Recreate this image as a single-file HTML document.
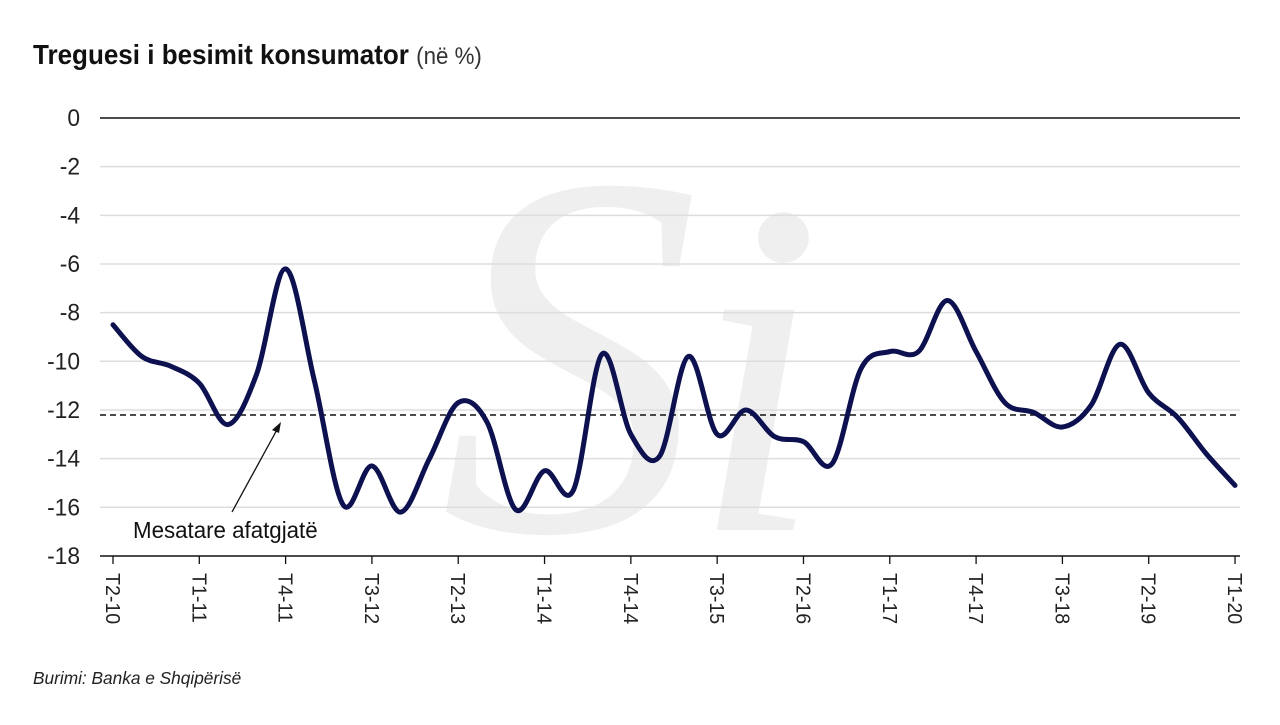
<!DOCTYPE html>
<html><head><meta charset="utf-8"><style>
body{margin:0;background:#fff;width:1280px;height:720px;overflow:hidden;font-family:"Liberation Sans",sans-serif}
</style></head><body>
<svg id="s" width="1280" height="720" xmlns="http://www.w3.org/2000/svg" font-family="Liberation Sans, sans-serif">
<text x="440" y="530" font-family="Liberation Serif, serif" font-style="italic" font-size="520" fill="#efefef">S</text>
<text x="690" y="530" font-family="Liberation Serif, serif" font-style="italic" font-size="480" fill="#efefef">i</text>
<text transform="translate(33,64) scale(0.93,1)" font-size="28" font-weight="bold" fill="#111">Treguesi i besimit konsumator <tspan font-weight="normal" font-size="24" fill="#333">(në %)</tspan></text>
<g id="grid"></g>
<line x1="100" y1="415" x2="1240" y2="415" stroke="#111" stroke-width="1.5" stroke-dasharray="6,4"/>
<path id="line" fill="none" stroke="#0d1150" stroke-width="5" stroke-linejoin="round" stroke-linecap="round"/>
<line x1="232" y1="512" x2="279" y2="426" stroke="#111" stroke-width="1.3"/>
<path d="M281,422 L272,430 L279,433 Z" fill="#111"/>
<text transform="translate(133,538) scale(0.97,1)" font-size="23" fill="#111">Mesatare afatgjatë</text>
<text transform="translate(33,684) scale(0.96,1)" font-size="18" font-style="italic" fill="#222">Burimi: Banka e Shqipërisë</text>
</svg>
<script>
var s=document.getElementById('s'),g=document.getElementById('grid'),NS='http://www.w3.org/2000/svg';
function el(t,a,txt){var e=document.createElementNS(NS,t);for(var k in a)e.setAttribute(k,a[k]);if(txt)e.textContent=txt;return e;}
function Y(v){return 118-v*24.33;}
for(var v=0;v>=-18;v-=2){var y=Y(v);
 g.appendChild(el('line',{x1:100,x2:1240,y1:y,y2:y,stroke:v==0||v==-18?'#111':'#ddd','stroke-width':1.5}));
 g.appendChild(el('text',{transform:'translate(80,'+(y+8)+') scale(0.95,1)','text-anchor':'end','font-size':24,fill:'#222'},String(v)));}
function X(i){return 113+i*28.77;}
var labs=['T2-10','T1-11','T4-11','T3-12','T2-13','T1-14','T4-14','T3-15','T2-16','T1-17','T4-17','T3-18','T2-19','T1-20'];
for(var j=0;j<14;j++){var x=X(j*3);
 g.appendChild(el('line',{x1:x,x2:x,y1:556,y2:564,stroke:'#111','stroke-width':1.3}));
 g.appendChild(el('text',{transform:'translate('+(x-7)+',573) rotate(90) scale(0.98,1)','font-size':20,fill:'#222'},labs[j]));}
var d=[-8.5,-9.8,-10.2,-10.9,-12.6,-10.5,-6.2,-10.8,-15.9,-14.3,-16.2,-14.0,-11.7,-12.5,-16.1,-14.5,-15.3,-9.7,-13.0,-13.9,-9.8,-13.0,-12.0,-13.1,-13.3,-14.2,-10.3,-9.6,-9.6,-7.5,-9.6,-11.7,-12.1,-12.7,-11.8,-9.3,-11.3,-12.3,-13.8,-15.1];
var p=d.map(function(v,i){return [X(i),Y(v)];});
var str='M'+p[0][0]+','+p[0][1];
for(var i=0;i<p.length-1;i++){var p0=p[i-1]||p[i],p1=p[i],p2=p[i+1],p3=p[i+2]||p2;
 str+=' C'+(p1[0]+(p2[0]-p0[0])/6)+','+(p1[1]+(p2[1]-p0[1])/6)+' '+(p2[0]-(p3[0]-p1[0])/6)+','+(p2[1]-(p3[1]-p1[1])/6)+' '+p2[0]+','+p2[1];}
document.getElementById('line').setAttribute('d',str);
</script>
</body></html>
